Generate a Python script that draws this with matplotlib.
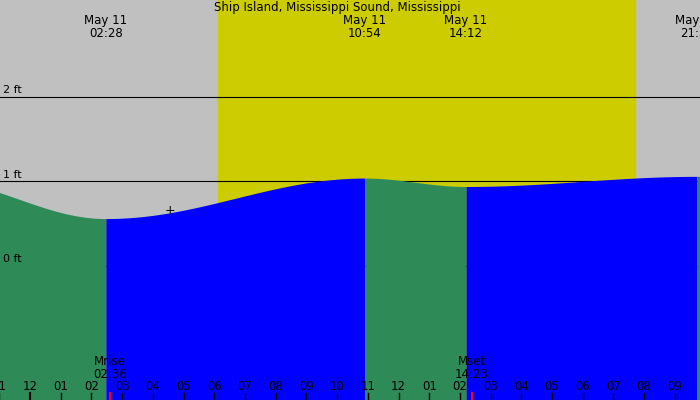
import numpy as np
import matplotlib
matplotlib.use("Agg")
import matplotlib.pyplot as plt

# tide extrema (hours since midnight May 11, feet)
ext_t = [-3.2, 2.467, 10.9, 14.2, 21.72, 27.0]
ext_h = [1.02, 0.56, 1.04, 0.94, 1.06, 0.70]
ext_lbl = ["", "May 11\n02:28", "May 11\n10:54", "May 11\n14:12", "May 11\n21:33", ""]

sunrise, sunset = 6.12, 19.70
moon_t = [2.6, 14.383]
moon_lbl = ["Mrise\n02:36", "Mset\n14:23"]
hour_lbl = ["11", "12", "01", "02", "03", "04", "05", "06", "07", "08", "09", "10",
            "11", "12", "01", "02", "03", "04", "05", "06", "07", "08", "09"]
ft_lvls = [0, 1, 2]

x0, x1 = -0.98, 21.82
y0, y1 = -1.59, 3.15

fig = plt.figure(figsize=(7, 4), dpi=100)
ax = fig.add_axes([0, 0, 1, 1])
ax.set_xlim(x0, x1)
ax.set_ylim(y0, y1)
ax.axis("off")
ax.axvspan(x0, x1, color="#c0c0c0", zorder=0)
ax.axvspan(sunrise, sunset, color="#cccc00", zorder=1)

# cosine curve between tide extrema
for i in range(len(ext_t) - 1):
    ta, tb = ext_t[i], ext_t[i + 1]
    ha, hb = ext_h[i], ext_h[i + 1]
    t = np.linspace(ta, tb, 100)
    h = ha + (hb - ha) * (1 - np.cos(np.pi * (t - ta) / (tb - ta))) / 2
    col = "#2e8b57" if hb < ha else "#0000ff"
    ax.fill_between(t, y0, h, color=col, lw=0, zorder=3)

for f in ft_lvls:
    ax.axhline(f, color="black", lw=0.8, zorder=2)
    ax.text(x0 + 0.1, f + 0.02, f"{f} ft", fontsize=8, va="bottom", zorder=4)

for t, l in zip(ext_t, ext_lbl):
    if l:
        ax.text(t, 2.68, l, ha="center", va="bottom", fontsize=8.5, linespacing=0.95, zorder=4)

ax.text(10.0, 2.98, "Ship Island, Mississippi Sound, Mississippi", ha="center",
        va="bottom", fontsize=8.5, zorder=4)

for t, l in zip(moon_t, moon_lbl):
    ax.text(t, -1.36, l, ha="center", va="bottom", fontsize=8.5, linespacing=0.95, zorder=4)
    ax.plot([t, t], [y0, y0 + 0.08], color="red", lw=1.5, zorder=5)

for i, l in enumerate(hour_lbl):
    h = i - 1
    ax.text(h, -1.43, l, ha="center", va="center", fontsize=8.5, zorder=4)
    ax.plot([h, h], [y0, y0 + 0.08], color="black", lw=1.5 if h == 0 else 1, zorder=5)

ax.text(4.55, 0.65, "+", ha="center", va="center", fontsize=9, zorder=4)

fig.savefig("out.png", dpi=100)
